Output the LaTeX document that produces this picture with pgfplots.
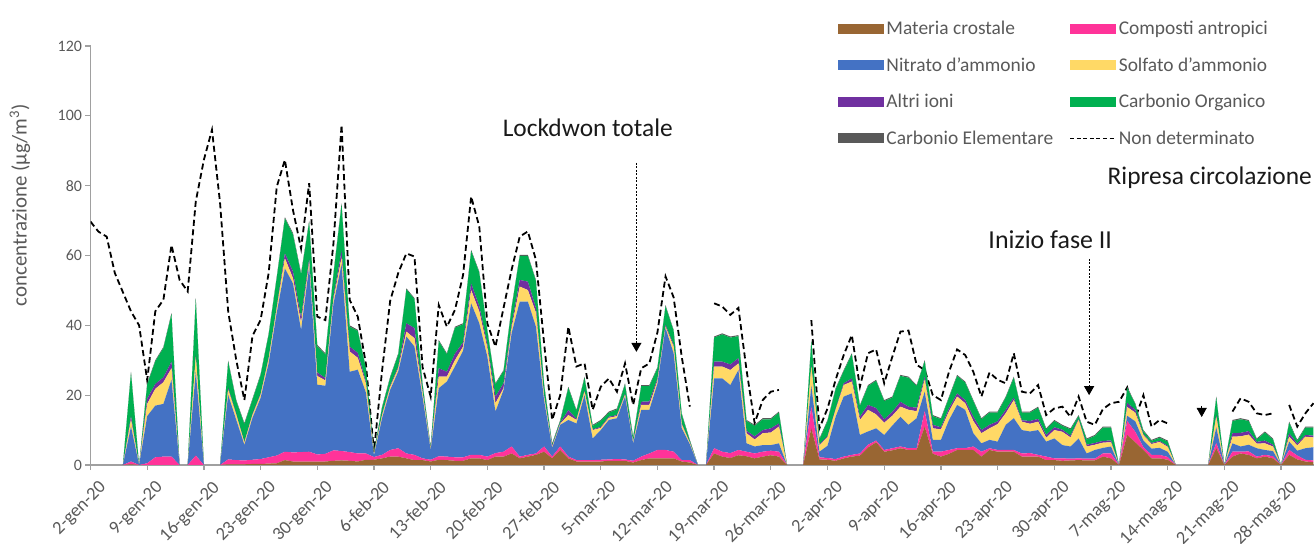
\documentclass[border=0pt]{standalone}
\usepackage{pgfplots}
\pgfplotsset{compat=1.18}
\usepackage{pgfplotstable}
\usepackage{fontspec}
\setmainfont{Carlito}
\usetikzlibrary{arrows.meta}
\definecolor{cBrown}{RGB}{153,102,51}
\definecolor{cPink}{RGB}{255,51,153}
\definecolor{cBlue}{RGB}{68,114,196}
\definecolor{cYellow}{RGB}{255,217,102}
\definecolor{cPurple}{RGB}{112,48,160}
\definecolor{cGreen}{RGB}{0,176,80}
\definecolor{cGray}{RGB}{89,89,89}
\definecolor{cText}{RGB}{89,89,89}
\definecolor{cAxis}{RGB}{160,160,160}
\pgfplotstableread{
d B P N S A OC EC T
0 0 0 0 0 0 0 0 69.7
1 0 0 0 0 0 0 0 66.8
2 0 0 0 0 0 0 0 65.4
3 0 0 0 0 0 0 0 55
4 0 0 0 0 0 0 0 49.5
5 0.2 0.8 10 2.0 1.0 12.4 0.3 44
6 0 0 0 0 0 0 0 40
7 0 0.5 13.5 3.5 1.5 4.1 0.3 24.3
8 0 2.2 14.8 4.8 1.4 6.5 0.3 44
9 0 2.4 15.1 6.2 1.4 8.4 0.3 47.3
10 0 2.4 22 3.3 1.9 13.6 0.3 63
11 0 0 0 0 0 0 0 53
12 0 0 0 0 0 0 0 49.7
13 0 2.7 24 4.3 0.3 16.2 0.3 75.5
14 0 0 0 0 0 0 0 87.4
15 0 0 0 0 0 0 0 96
16 0 0 0 0 0 0 0 75
17 0.2 1.4 18.5 1.5 0.5 7.5 0.3 44
18 0.2 1.2 11.5 1.4 0.3 3.7 0.3 30
19 0.2 1.1 4.5 0.6 0.2 5.1 0.3 18.6
20 0.3 1.2 12 0.8 0.3 4.1 0.3 37
21 0.3 1.4 17.5 0.9 0.3 5.3 0.3 41.5
22 0.4 1.8 27 1.2 0.4 6.6 0.3 55
23 0.5 2.2 41 1.2 0.5 8.3 0.3 79.7
24 1.4 2.4 52.5 2.9 1.4 10 0.4 87.4
25 1.0 2.6 48.4 1.5 1.9 10.6 0.4 73
26 1.0 2.7 35 2 1.5 12.4 0.4 62
27 1.0 2.8 53 1.2 1.0 10.6 0.4 80.7
28 1.0 2.0 20 2.5 1.0 7.5 0.4 42.5
29 1.0 2.2 19.5 1.5 0.7 6.7 0.4 41.5
30 1.2 3.0 42 1.2 0.8 6.4 0.4 63.5
31 1.3 2.7 53.5 1.9 1.9 13.3 0.4 97.4
32 1.2 2.5 23 5.8 1.4 5.7 0.4 47.3
33 1.0 2.3 24 3.4 1.4 6.3 0.3 42.5
34 1.5 1.8 17.5 2.5 0.6 3.8 0.3 29
35 1.5 0.8 0.5 0.5 0.2 0.3 0 3.8
36 1.9 1.0 10.5 0.8 0.3 1.9 0.3 27
37 2.4 1.9 17.2 0.8 0.4 2.3 0.3 47
38 2.4 2.4 22 0.9 0.5 3.5 0.3 55
39 1.9 1.4 33.5 1.4 2.4 9.7 0.3 60.6
40 1.4 1.5 31 2.4 2.9 8.3 0.3 59.7
41 1.4 0.5 17.5 1.2 0.5 2.0 0.3 28
42 1.0 0.5 2.8 0.4 0.1 0.3 0.2 19.6
43 1.5 1.0 19.5 3.3 2.4 7.8 0.3 45.8
44 1.4 1.0 21.5 1.4 1.4 5.0 0.3 39.6
45 1.2 1.0 26 1.8 1.9 7.4 0.3 44.4
46 1.2 1.0 30.5 1.2 1.2 5.2 0.3 54.4
47 1.9 1.0 43.4 3.8 1.9 9.3 0.3 76.9
48 1.9 1.0 37.7 3.4 1.5 9.6 0.3 68.3
49 1.4 1.0 28.6 2.5 1.0 3.9 0.3 40.5
50 2.4 1.0 11.9 2.4 1.9 3.5 0.3 33.9
51 2.4 1.4 17.7 0.5 1.4 3.5 0.3 45
52 3.3 2.0 32.5 1.5 1.0 4.8 0.3 56
53 1.9 0.5 44.4 4.3 1.9 6.9 0.3 65.4
54 2.4 0.5 43.9 3.3 2.4 7.4 0.3 66.9
55 2.9 0.4 36.3 4.0 1.4 7.7 0.3 58.7
56 3.8 1.5 13.3 1.0 0.5 3.0 0.3 35
57 1.9 0.5 2.5 0.4 0.3 0.4 0.2 12.9
58 4.3 1.0 6.2 0.3 0.3 0.5 0.3 20
59 1.9 0.5 10.5 1.4 1.4 6.4 0.3 39.6
60 1.0 0.4 10.5 1.0 0.3 2.3 0.3 28.2
61 1.0 0.4 18.6 1.0 0.3 3.7 0.3 29.1
62 1.0 0.4 6.2 2.4 0.2 1.0 0.3 15.8
63 1.0 0.5 8.5 0.6 0.3 1.7 0.3 22.4
64 1.2 0.4 11.3 0.6 0.3 1.2 0.3 24.8
65 1.2 0.5 11.7 0.6 0.3 1.6 0.3 21
66 1.2 0.4 18 0.5 0.3 2.7 0.3 29.1
67 0.7 0.5 5.0 0.4 0.2 1.0 0.3 17.2
68 1.4 1.0 13.4 1.4 0.9 4.5 0.3 27.7
69 1.9 1.4 12.5 1.4 1.0 4.4 0.3 29.1
70 1.9 2.4 19 0.8 0.6 3.0 0.3 38
71 1.9 2.4 34.9 0.4 0.5 5.4 0.3 54
72 1.9 1.9 28.2 1.9 0.5 4.0 0.3 48
73 1.0 0.4 9.2 1.0 0.3 2.6 0.3 31
74 0.7 0.7 4.5 0.4 0.2 0.5 0.2 16.7
75 0 0 0 0 0 0 0 nan
76 0 0 0 0 0 0 0 nan
77 3.3 1.5 20 3.4 1.4 6.9 0.3 46.3
78 2.4 1.4 21 3.4 1.4 7.8 0.3 45.4
79 2.0 1.4 19.5 4.3 1.6 7.7 0.3 43
80 2.8 1.5 22.9 1.9 1.5 6.3 0.3 45
81 2.5 1.3 2.4 2.9 0.7 2.8 0.3 27.2
82 1.9 1.4 2.0 2.0 0.9 3.0 0.3 12
83 2.4 1.4 1.9 3.4 0.9 3.1 0.3 18.6
84 2.8 1.3 1.6 3.6 1.2 2.6 0.3 21
85 2.4 1.4 2.4 4.8 0.9 3.1 0.3 21.5
86 0 0 0 0 0 0 0 nan
87 0 0 0 0 0 0 0 nan
88 0 0 0 0 0 0 0 nan
89 10.5 6.2 6 5.5 0.4 6.9 0.3 41.5
90 1.6 0.6 1.6 1.8 0.3 1.4 0.3 10.5
91 1.5 0.5 3.5 2.5 0.3 4.3 0.3 16.2
92 1.2 0.5 12.1 2.0 0.3 5.6 0.3 24.4
93 1.9 0.5 17.2 3.3 0.5 3.5 0.3 31.5
94 2.4 0.5 17.6 3.4 0.9 6.9 0.3 37.2
95 2.7 0.6 5.3 4.3 0.9 3.1 0.3 22.4
96 5 0.8 3.8 6.2 1.4 5.4 0.3 32
97 6.5 0.5 3.5 4.0 1.8 7.8 0.3 33.1
98 3.8 0.5 4.3 3.5 1.0 5.2 0.3 23.4
99 4.2 0.6 6.5 2.8 1.1 4.1 0.3 31
100 4.8 0.5 8.5 2.9 1.4 7.4 0.3 38.2
101 4.3 0.5 6.7 4.3 0.9 8.3 0.3 38.5
102 4.3 0.5 8.6 2.0 1.0 6.2 0.3 28.7
103 11 4.5 5.5 3.5 0.8 4.4 0.3 27.2
104 3.2 0.6 3.4 3.3 1.0 2.5 0.3 20
105 2.4 1.4 3.4 3.0 0.6 2.3 0.3 18.6
106 3.2 1.1 8.6 2.5 0.8 3.1 0.3 26.7
107 4.3 0.5 12.4 2.4 0.9 5.0 0.3 33.1
108 4.3 0.5 11 1.9 0.9 5.0 0.3 31.5
109 4.3 1 3.8 3.5 1.2 4.5 0.3 26.7
110 2.4 1.4 2.4 2.9 0.9 3.1 0.3 19.6
111 4.3 0.5 2.4 3.3 1.0 3.5 0.3 26.5
112 3.8 0.5 2.4 5.0 0.8 2.5 0.3 24.4
113 3.8 0.5 7.2 3.3 1.0 3.5 0.3 23.4
114 3.8 0.5 9.1 5.2 0.7 5.7 0.3 32
115 2.4 0.9 6.7 2.4 0.4 2.2 0.3 21
116 2.4 1.0 6.2 2.2 0.8 2.4 0.3 20.5
117 2.4 0.5 7.1 2.4 0.8 3.2 0.3 22.9
118 1.4 1.0 4.3 1.1 0.8 1.6 0.3 14.3
119 1.4 0.5 5.7 2.4 0.8 1.8 0.3 16.2
120 1.2 0.7 3.8 3.8 0.6 1.1 0.3 16.7
121 1.3 0.5 3.5 2.6 0.5 1.8 0.3 13.8
122 1.4 0.5 5.7 5.3 0.3 0.8 0.3 19.6
123 1.3 0.5 1.5 2.0 0.5 1.5 0.3 12.4
124 1.3 0.5 2.5 1.5 0.5 2.0 0.3 11.5
125 2.4 0.9 1.6 1.5 0.5 3.8 0.3 16
126 1.9 1.4 2.0 1.2 0.5 3.7 0.3 17.7
127 0 0 0 0 0 0 0 18.1
128 8.6 4.0 1.5 2.5 1.2 4.3 0.3 22.2
129 6.5 3.0 3.0 2.5 0.8 1.6 0.3 13.4
130 4.3 0.8 1.9 1.5 0.3 0.9 0.3 20
131 1.9 1.0 1.8 1.3 0.3 0.6 0.3 11
132 1.9 1.0 2.0 1.7 0.3 0.9 0.3 12.9
133 1.5 0.8 1.5 1.4 0.3 1.2 0.3 11.9
134 0 0 0 0 0 0 0 nan
135 0 0 0 0 0 0 0 nan
136 0 0 0 0 0 0 0 nan
137 0 0 0 0 0 0 0 nan
138 0 0 0 0 0 0 0 nan
139 4.8 1.5 4.5 3.0 0.5 5.0 0.3 nan
140 0 0 0 0 0 0 0 nan
141 2.4 1.4 2.4 1.9 1.0 3.5 0.3 15.3
142 3.3 0.5 1.5 2.9 1.0 3.9 0.3 19.1
143 2.9 1.0 1.9 2.9 1.0 2.9 0.3 18.1
144 1.9 0.5 2.4 1.3 0.5 0.7 0.3 14.8
145 2.4 0.5 1.4 1.9 0.8 2.3 0.3 14.3
146 1.9 0.6 1.5 1.3 0.5 1.5 0.3 14.8
147 0 0 0 0 0 0 0 nan
148 2.9 1.4 2.4 1.4 1.0 3.0 0.3 17.2
149 1.6 1.1 1.4 1.5 0.5 0.8 0.3 11
150 1.0 0.5 3.3 3.3 0.5 2.1 0.3 14.8
151 0.8 0.5 3.8 2.8 0.5 2.3 0.3 17.7
}\data
\begin{document}
\begin{tikzpicture}
\useasboundingbox (0,0) rectangle (1314bp,544bp);
\begin{axis}[
  at={(90.5bp,79bp)}, anchor=south west,
  scale only axis, width=1227bp, height=419bp,
  xmin=0, xmax=151.5, ymin=0, ymax=120,
  stack plots=y,
  axis x line*=bottom, axis y line*=left,
  axis line style={draw=cAxis, line width=1.3bp, -},
  tick align=outside, major tick length=5bp,
  tick style={draw=cAxis, line width=1.3bp},
  xtick={0,7,...,147},
  xticklabels={2-gen-20,9-gen-20,16-gen-20,23-gen-20,30-gen-20,6-feb-20,13-feb-20,20-feb-20,27-feb-20,5-mar-20,12-mar-20,19-mar-20,26-mar-20,2-apr-20,9-apr-20,16-apr-20,23-apr-20,30-apr-20,7-mag-20,14-mag-20,21-mag-20,28-mag-20},
  ytick={0,20,...,120}, yticklabels={0,20,40,60,80,100,120},
  yticklabel style={font=\fontsize{16}{19}\selectfont, text=cText},
  xticklabel style={font=\fontsize{18.5}{22}\selectfont, text=cText, xshift=7.5bp, yshift=-8bp, rotate=45, anchor=north east, inner sep=1bp},
  ylabel={concentrazione (µg/m\textsuperscript{3})},
  ylabel style={at={(axis description cs:-0.0575,0.62)}, anchor=center, font=\fontsize{21}{25}\selectfont, text=cText},
  legend columns=2,
  legend style={draw=none, fill=none, at={(axis description cs:0.607,1.069)}, anchor=north west,
    font=\fontsize{19.5}{23}\selectfont, text=cText, row sep=17.5bp,
    /tikz/every even column/.append style={column sep=14bp}},
  legend cell align=left,
]
\addplot[fill=cBrown, draw=none, legend image code/.code={\fill[cBrown] (0bp,-5bp) rectangle (46bp,5bp);}] table[x=d,y=B]{\data} \closedcycle;
\addlegendentry{Materia crostale}
\addplot[fill=cPink, draw=none, legend image code/.code={\fill[cPink] (0bp,-5bp) rectangle (46bp,5bp);}] table[x=d,y=P]{\data} \closedcycle;
\addlegendentry{Composti antropici}
\addplot[fill=cBlue, draw=none, legend image code/.code={\fill[cBlue] (0bp,-5bp) rectangle (46bp,5bp);}] table[x=d,y=N]{\data} \closedcycle;
\addlegendentry{Nitrato d'ammonio}
\addplot[fill=cYellow, draw=none, legend image code/.code={\fill[cYellow] (0bp,-5bp) rectangle (46bp,5bp);}] table[x=d,y=S]{\data} \closedcycle;
\addlegendentry{Solfato d'ammonio}
\addplot[fill=cPurple, draw=none, legend image code/.code={\fill[cPurple] (0bp,-5bp) rectangle (46bp,5bp);}] table[x=d,y=A]{\data} \closedcycle;
\addlegendentry{Altri ioni}
\addplot[fill=cGreen, draw=none, legend image code/.code={\fill[cGreen] (0bp,-5bp) rectangle (46bp,5bp);}] table[x=d,y=OC]{\data} \closedcycle;
\addlegendentry{Carbonio Organico}
\addplot[fill=cGray, draw=none, legend image code/.code={\fill[cGray] (0bp,-5bp) rectangle (46bp,5bp);}] table[x=d,y=EC]{\data} \closedcycle;
\addlegendentry{Carbonio Elementare}
\addplot[stack plots=false, black, line width=1.8bp, dash pattern=on 6bp off 3.5bp, unbounded coords=jump,
  legend image code/.code={\draw[black, line width=1.6bp, dash pattern=on 4bp off 2.6bp] (0bp,0bp) -- (46bp,0bp);}] table[x=d,y=T]{\data};
\addlegendentry{Non determinato}
\node[font=\fontsize{25.5}{30}\selectfont, text=black!90] at (axis cs:61.4,96.6) {Lockdwon totale};
\draw[black, line width=1bp, dash pattern=on 2bp off 1.5bp, -{Triangle[width=10bp,length=9bp]}] (axis cs:67.4,86.5) -- (axis cs:67.4,32.4);
\node[font=\fontsize{26}{30}\selectfont, text=black!90] at (axis cs:118.5,64.5) {Inizio fase II};
\draw[black, line width=1bp, dash pattern=on 2bp off 1.5bp, -{Triangle[width=10bp,length=9bp]}] (axis cs:123.3,59) -- (axis cs:123.3,20);
\node[font=\fontsize{25.5}{30}\selectfont, text=black!90] at (axis cs:138.2,82.2) {Ripresa circolazione};
\draw[black, line width=0.5bp, -{Triangle[width=10bp,length=9bp]}] (axis cs:137.2,16.9) -- (axis cs:137.2,13.75);
\end{axis}
\end{tikzpicture}
\end{document}
